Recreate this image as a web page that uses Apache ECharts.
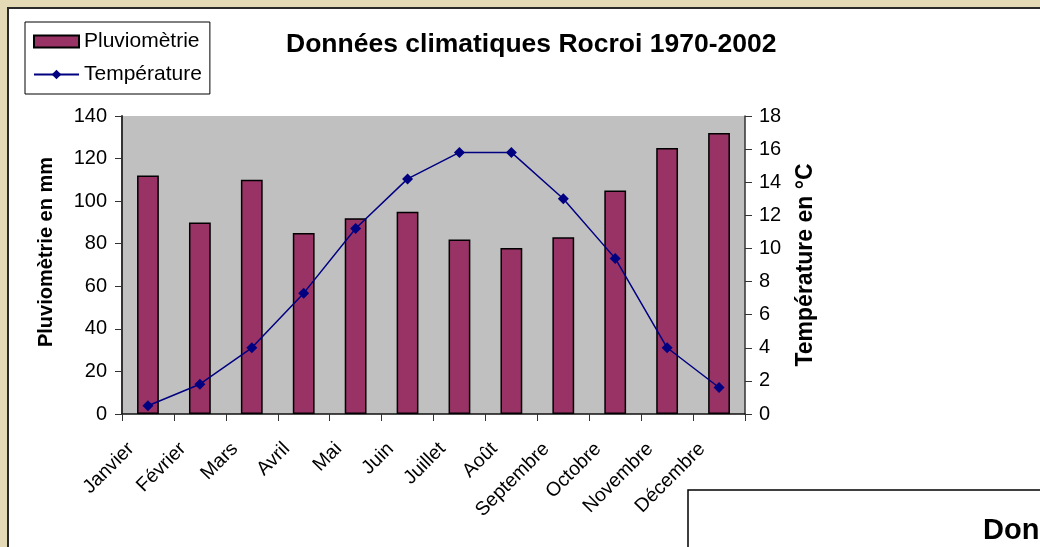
<!DOCTYPE html>
<html lang="fr">
<head>
<meta charset="UTF-8">
<title>Données climatiques Rocroi</title>
<script src="https://cdn.jsdelivr.net/npm/echarts@6/dist/echarts.min.js"></script>
<style>
  html, body { margin: 0; padding: 0; background: #e4dbb6; }
  #graph { width: 1040px; height: 547px; }
</style>
</head>
<body>
<div id="graph"></div>
<script>
    // data
    var mois = ['Janvier', 'Février', 'Mars', 'Avril', 'Mai', 'Juin', 'Juillet', 'Août', 'Septembre', 'Octobre', 'Novembre', 'Décembre'];
    var pluie = [112, 90, 110, 85, 92, 95, 82, 78, 83, 105, 125, 132];
    var temperature = [0.5, 1.8, 4.0, 7.3, 11.2, 14.2, 15.8, 15.8, 13.0, 9.4, 4.0, 1.6];

    var police = "'Liberation Sans', Arial, sans-serif";

    var chartDom = document.getElementById('graph');
    var myChart = echarts.init(chartDom);
    var option;

    option = {
    backgroundColor: '#e4dbb6',
    textStyle: { fontFamily: police },
    animation: false,
    graphic: [
        // white panel
        { type: 'rect', z: -10, shape: { x: 8, y: 8, width: 1100, height: 600 },
          style: { fill: '#fff', stroke: '#2a2a2a', lineWidth: 2 } },
        // second chart box peeking in at bottom right
        { type: 'rect', z: -5, shape: { x: 688, y: 490, width: 420, height: 120 },
          style: { fill: '#fff', stroke: '#000', lineWidth: 1.5 } },
        { type: 'text', z: -4, left: 983, top: 516,
          style: { text: 'Données climatiques', fill: '#000', font: "bold 29px 'Liberation Sans', Arial" } }
    ],
    title: {
        text: 'Données climatiques Rocroi 1970-2002',
        left: 281,
        top: 26,
        textStyle: { fontSize: 26.5, fontWeight: 'bold', color: '#000', fontFamily: police }
    },
    legend: {
        orient: 'vertical',
        left: 25,
        top: 22,
        data: [{ name: 'Pluviomètrie', icon: 'rect' }, { name: 'Température' }],
        backgroundColor: '#fff',
        borderColor: '#000',
        borderWidth: 1,
        borderRadius: 0,
        padding: [9, 8, 9, 8],
        itemWidth: 45,
        itemHeight: 12,
        itemGap: 12,
        textStyle: { fontSize: 21, color: '#000', fontFamily: police }
    },
    grid: {
        left: 122,
        right: 295,
        top: 116,
        bottom: 133,
        show: true,
        backgroundColor: '#c0c0c0',
        borderWidth: 0
    },
    xAxis: [
        {
            type: 'category',
            data: mois,
            axisLine: { lineStyle: { color: '#111', width: 1.5 } },
            axisTick: { show: true, length: 7, lineStyle: { color: '#333' } },
            axisLabel: { rotate: 45, fontSize: 19.5, color: '#000', margin: 15, padding: [0, 24, 0, 0], interval: 0, fontFamily: police }
        }
    ],
    yAxis: [
        {
            type: 'value',
            min: 0,
            max: 140,
            interval: 20,
            name: 'Pluviomètrie en mm',
            nameLocation: 'middle',
            nameRotate: 90,
            nameGap: 66,
            nameTextStyle: { fontSize: 20, fontWeight: 'bold', color: '#000', fontFamily: police, padding: [0, 0, 0, 26] },
            axisLine: { show: true, lineStyle: { color: '#333', width: 2 } },
            axisTick: { show: true, length: 7, lineStyle: { color: '#333' } },
            axisLabel: { fontSize: 20, color: '#000', margin: 15, fontFamily: police },
            splitLine: { show: false }
        },
        {
            type: 'value',
            min: 0,
            max: 18,
            interval: 2,
            position: 'right',
            name: 'Température en °C',
            nameLocation: 'middle',
            nameRotate: 90,
            nameGap: 49,
            nameTextStyle: { fontSize: 23, fontWeight: 'bold', color: '#000', fontFamily: police },
            axisLine: { show: true, lineStyle: { color: '#333', width: 1.5 } },
            axisTick: { show: true, length: 7, lineStyle: { color: '#333' } },
            axisLabel: { fontSize: 20, color: '#000', margin: 14, fontFamily: police },
            splitLine: { show: false }
        }
    ],
    series: [
        {
            name: 'Pluviomètrie',
            type: 'bar',
            data: pluie,
            barWidth: '42%',
            itemStyle: { color: '#993366', borderColor: '#000', borderWidth: 1.5 }
        },
        {
            name: 'Température',
            type: 'line',
            yAxisIndex: 1,
            data: temperature,
            symbol: 'diamond',
            symbolSize: 11,
            lineStyle: { color: '#000080', width: 1.5 },
            itemStyle: { color: '#000080' }
        }
    ]
    };

    option && myChart.setOption(option);
</script>
</body>
</html>
